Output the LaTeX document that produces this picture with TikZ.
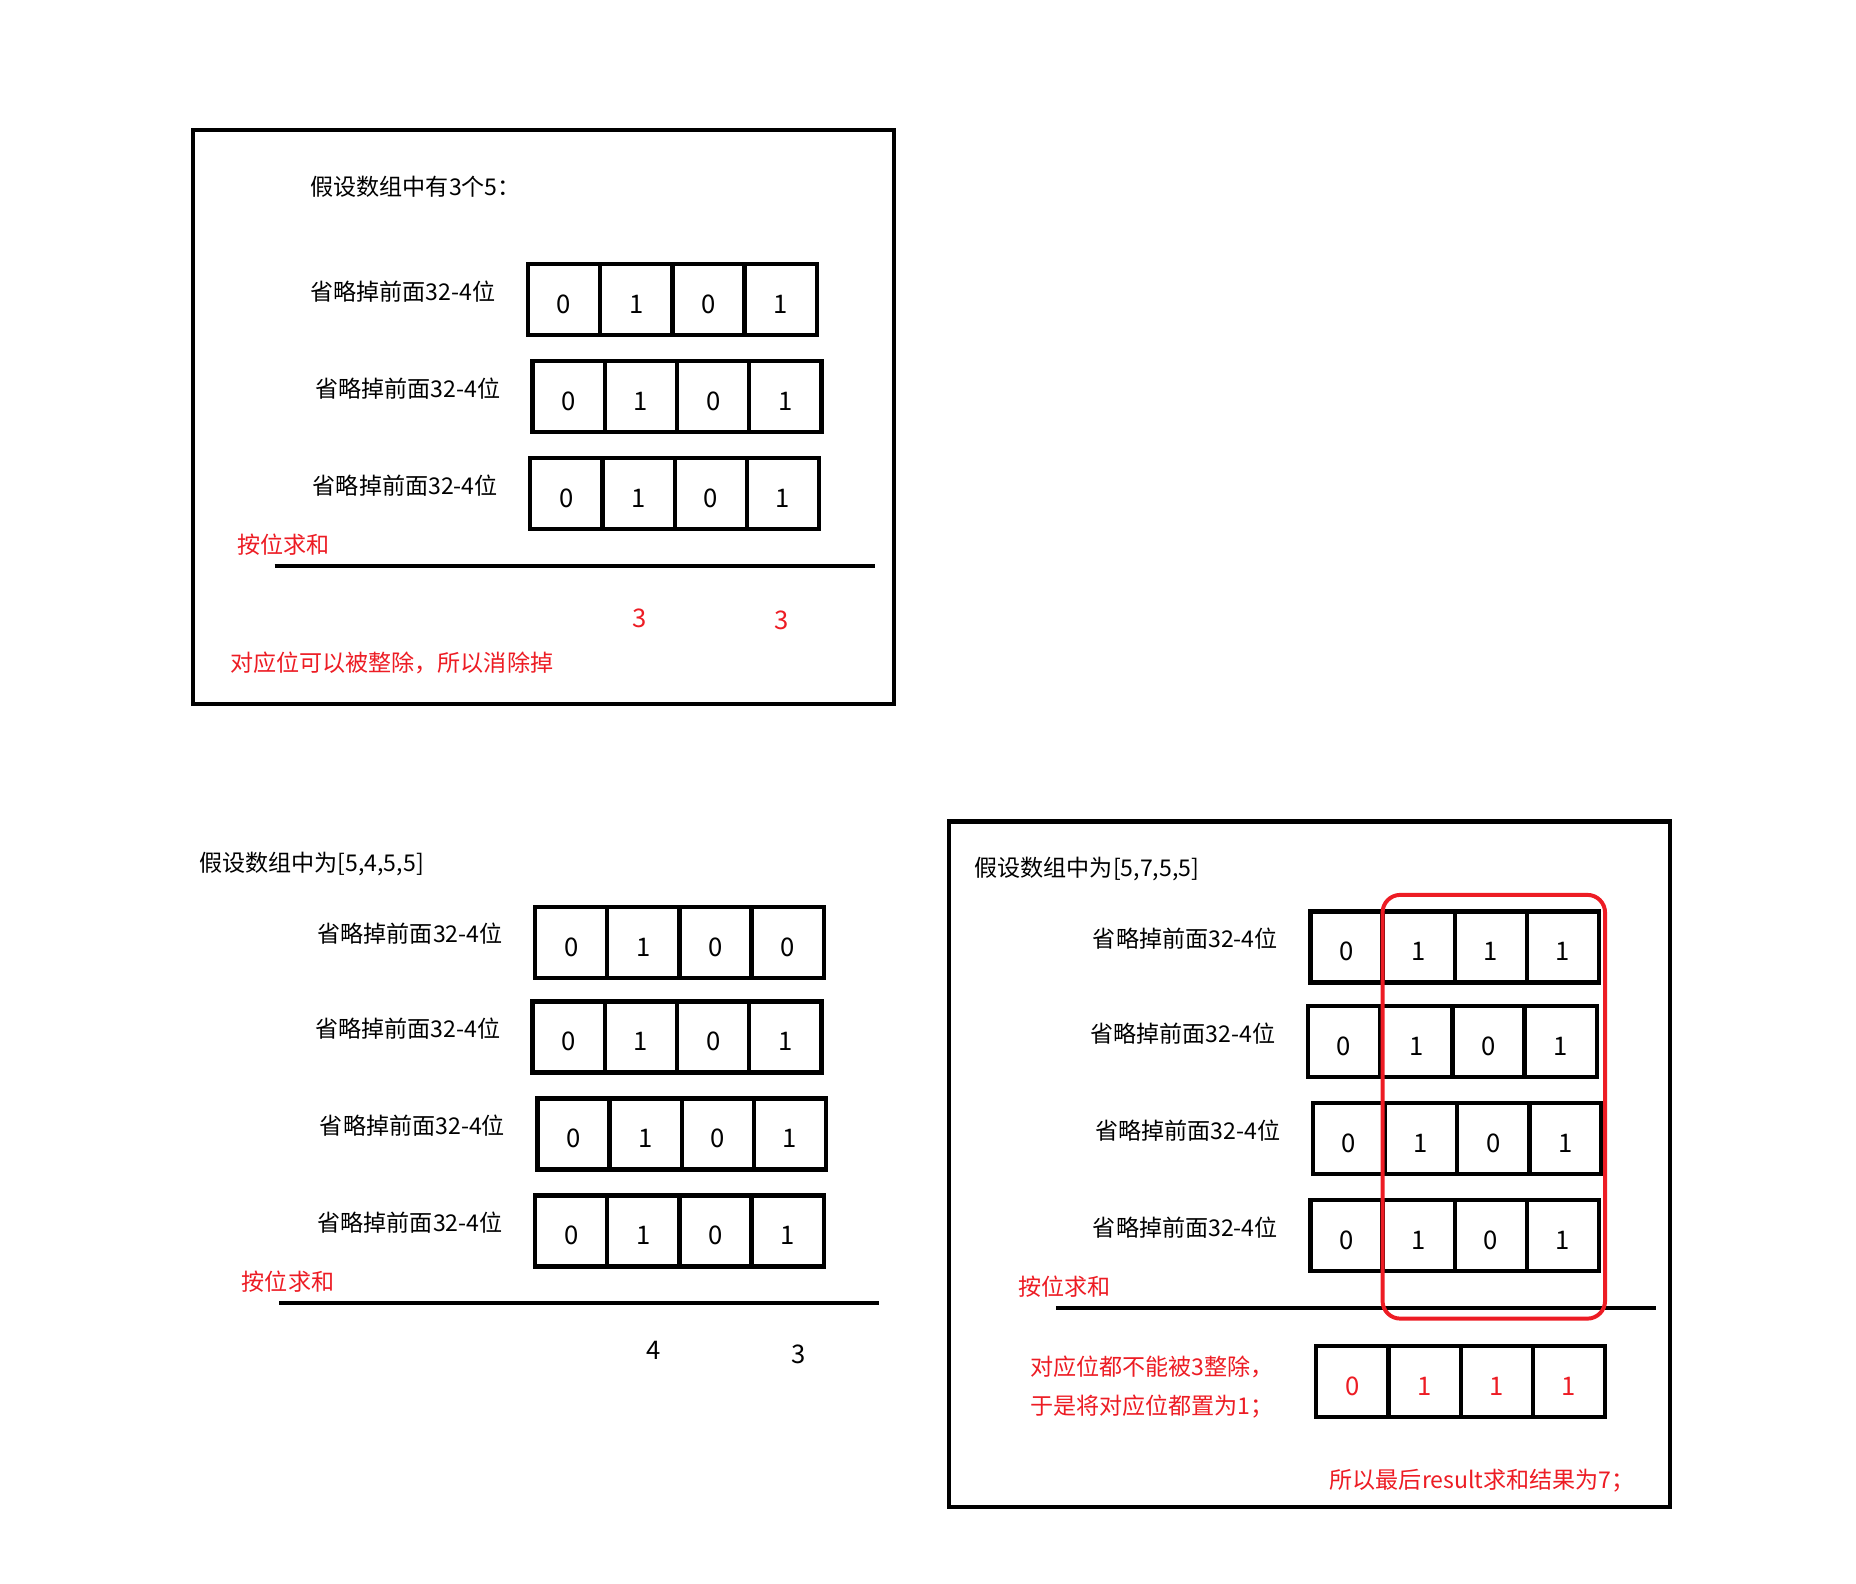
\documentclass[tikz,border=0pt]{standalone}
\usepackage{fontspec}
\setmainfont{Noto Sans CJK SC}
\definecolor{myred}{RGB}{237,28,36}
\tikzset{
 cell/.style={draw, line width=2.2pt, minimum width=36.6pt, minimum height=36pt, inner sep=0pt, outer sep=0pt, text height=14pt, text depth=0pt, font=\fontsize{13}{15}\selectfont},
 redcell/.style={text=myred},
 blkcell/.style={},
 lbl/.style={anchor=west, inner sep=0pt, font=\fontsize{11.7}{14}\selectfont},
 redtxt/.style={lbl, text=myred},
 frame/.style={draw, line width=2.2pt},
 rulel/.style={line width=2pt},
 redbox/.style={draw=myred, line width=2pt, rounded corners=9pt}
}
\newcommand\bitrow[8]{%
 \node[cell,#2,anchor=north west] (#1a) at (#3,#4) {#5};
 \node[cell,#2,anchor=west] (#1b) at (#1a.east) {#6};
 \node[cell,#2,anchor=west] (#1c) at (#1b.east) {#7};
 \node[cell,#2,anchor=west] (#1d) at (#1c.east) {#8};
}
\begin{document}
\begin{tikzpicture}[x=0.6pt,y=-0.6pt]
\useasboundingbox[fill=white] (0,0) rectangle (1568,1338);
% ---------- box 1 ----------
\draw[frame] (163,110) rectangle (755,595);
\node[lbl] (t1) at (262,158) {假设数组中有3个5：};
\node[lbl] (l11) at (262,246) {省略掉前面32-4位};
\bitrow{r11}{blkcell}{446}{223}{0}{1}{0}{1}
\node[lbl] (l12) at (266,328) {省略掉前面32-4位};
\bitrow{r12}{blkcell}{450}{305}{0}{1}{0}{1}
\node[lbl] (l13) at (264,410) {省略掉前面32-4位};
\bitrow{r13}{blkcell}{448}{387}{0}{1}{0}{1}
\node[redtxt] (s1) at (200,460) {按位求和};
\coordinate (a1) at (232,478);
\coordinate (b1) at (739,478);
\draw[rulel] (a1) -- (b1);
\node[lbl,anchor=center,text=myred,font=\fontsize{13}{15}\selectfont] (n11) at (540,522) {3};
\node[lbl,anchor=center,text=myred,font=\fontsize{13}{15}\selectfont] (n12) at (660,524) {3};
\node[redtxt] (c1) at (194,560) {对应位可以被整除，所以消除掉};
% ---------- bottom left ----------
\node[lbl] (t2) at (168,730) {假设数组中为[5,4,5,5]};
\node[lbl] (l21) at (268,789) {省略掉前面32-4位};
\bitrow{r21}{blkcell}{452}{766}{0}{1}{0}{0}
\node[lbl] (l22) at (266,869) {省略掉前面32-4位};
\bitrow{r22}{blkcell}{450}{846}{0}{1}{0}{1}
\node[lbl] (l23) at (270,951) {省略掉前面32-4位};
\bitrow{r23}{blkcell}{454}{928}{0}{1}{0}{1}
\node[lbl] (l24) at (268,1033) {省略掉前面32-4位};
\bitrow{r24}{blkcell}{452}{1010}{0}{1}{0}{1}
\node[redtxt] (s2) at (204,1083) {按位求和};
\coordinate (a2) at (236,1101);
\coordinate (b2) at (743,1101);
\draw[rulel] (a2) -- (b2);
\node[lbl,anchor=center,font=\fontsize{13}{15}\selectfont] (n21) at (552,1141) {4};
\node[lbl,anchor=center,font=\fontsize{13}{15}\selectfont] (n22) at (675,1144) {3};
% ---------- bottom right ----------
\draw[frame] (802,694) rectangle (1411,1273);
\node[lbl] (t3) at (823,734) {假设数组中为[5,7,5,5]};
\node[lbl] (l31) at (923,793) {省略掉前面32-4位};
\bitrow{r31}{blkcell}{1107}{770}{0}{1}{1}{1}
\node[lbl] (l32) at (921,873) {省略掉前面32-4位};
\bitrow{r32}{blkcell}{1105}{850}{0}{1}{0}{1}
\node[lbl] (l33) at (925,955) {省略掉前面32-4位};
\bitrow{r33}{blkcell}{1109}{932}{0}{1}{0}{1}
\node[lbl] (l34) at (923,1037) {省略掉前面32-4位};
\bitrow{r34}{blkcell}{1107}{1014}{0}{1}{0}{1}
\node[redtxt] (s3) at (860,1087) {按位求和};
\coordinate (a3) at (892,1105);
\coordinate (b3) at (1399,1105);
\draw[rulel] (a3) -- (b3);
\draw[redbox] (1168,756) rectangle (1356,1114);
\bitrow{r35}{redcell}{1112}{1137}{0}{1}{1}{1}
\node[redtxt] (c31) at (870,1155) {对应位都不能被3整除，};
\node[redtxt] (c32) at (870,1188) {于是将对应位都置为1；};
\node[redtxt] (c33) at (1123,1251) {所以最后result求和结果为7；};
\end{tikzpicture}
\end{document}
